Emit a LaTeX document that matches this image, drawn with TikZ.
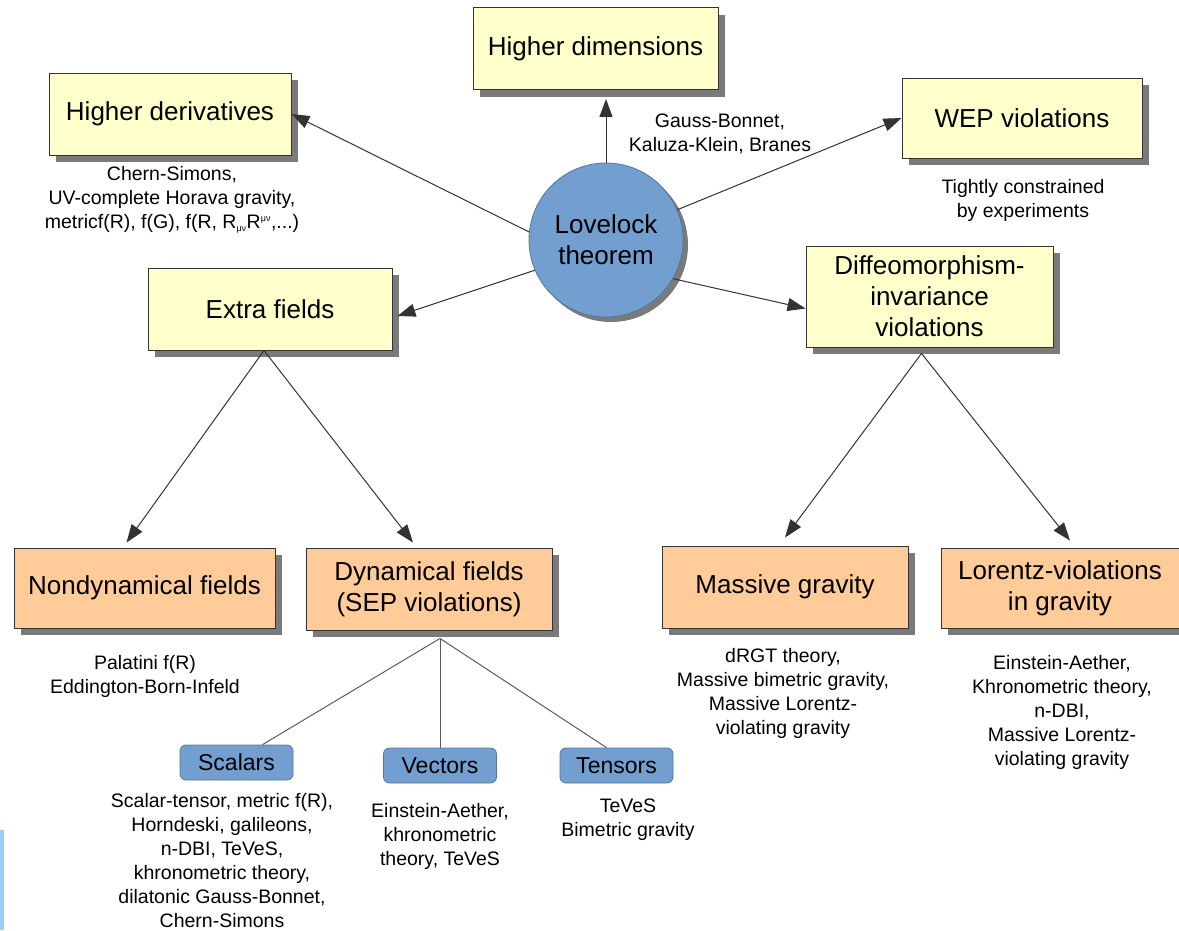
\documentclass[tikz,border=0pt]{standalone}
\usepackage{fontspec}
\setmainfont{Liberation Sans}
\usetikzlibrary{arrows.meta,shadows,calc}
\definecolor{yfill}{HTML}{FFFFCC}
\definecolor{ofill}{HTML}{FFCC99}
\definecolor{bfill}{HTML}{729FCF}
\definecolor{shad}{HTML}{7A7A7A}
\definecolor{edge}{HTML}{333333}
\definecolor{barblue}{HTML}{99CCFF}
\begin{document}
\begin{tikzpicture}[x=1pt,y=-1pt,
  box/.style={draw=edge, line width=0.9pt, align=center, inner sep=0pt,
    font=\fontsize{26}{31}\selectfont,
    drop shadow={shadow xshift=7pt, shadow yshift=-7pt, fill=shad, opacity=1}},
  ybox/.style={box, fill=yfill},
  obox/.style={box, fill=ofill},
  lovecirc/.style={circle, fill=bfill, draw=bfill!75!black, line width=0.8pt,
    minimum size=154pt, inner sep=0pt, align=center,
    font=\fontsize{26}{31}\selectfont,
    drop shadow={shadow xshift=5pt, shadow yshift=-5pt, fill=shad, opacity=1}},
  bbox/.style={rectangle, rounded corners=6pt, fill=bfill, draw=bfill!75!black,
    line width=0.8pt, minimum width=113pt, minimum height=35pt, inner sep=0pt,
    font=\fontsize{23}{27}\selectfont},
  note/.style={align=center, inner sep=0pt, font=\fontsize{19.5}{24}\selectfont},
  arr/.style={draw=edge, line width=1pt, -{Triangle[length=18pt,width=13pt]}},
  plain/.style={draw=edge!80, line width=1pt}
]
\fill[white] (0,0) rectangle (1179,930);
\useasboundingbox (0,0) rectangle (1179,930);
\fill[barblue] (0,830) rectangle (3.5,930);

% main nodes
\node[lovecirc] (love) at (606,240) {Lovelock\\theorem};
\node[ybox, minimum width=242pt, minimum height=82pt] (hder) at (170,114) {Higher derivatives};
\node[ybox, minimum width=245pt, minimum height=82pt] (hdim) at (595.5,48.5) {Higher dimensions};
\node[ybox, minimum width=240pt, minimum height=80pt] (wep) at (1022,118) {WEP violations};
\node[ybox, minimum width=244pt, minimum height=82pt] (extra) at (270,309) {Extra fields};
\node[ybox, minimum width=247pt, minimum height=101pt] (diff) at (929.5,296.5) {Diffeomorphism-\\invariance\\violations};
\node[obox, minimum width=261pt, minimum height=80pt] (nondyn) at (144.5,588) {Nondynamical fields};
\node[obox, minimum width=246pt, minimum height=82pt] (dyn) at (429,589) {Dynamical fields\\(SEP violations)};
\node[obox, minimum width=246pt, minimum height=82pt] (massive) at (785,587) {Massive gravity};
\node[obox, minimum width=238pt, minimum height=80pt] (lorentz) at (1060,588) {Lorentz-violations\\in gravity};
\node[bbox] (scalars) at (236.5,762.5) {Scalars};
\node[bbox] (vectors) at (440,765.5) {Vectors};
\node[bbox] (tensors) at (616.5,765.5) {Tensors};

% notes
\node[note] (hderT) at (172,200) {Chern-Simons,\\UV-complete Horava gravity,\\metricf(R), f(G), f(R, R\textsubscript{\fontsize{9}{9}\selectfont μν}R\textsuperscript{\fontsize{9}{9}\selectfont μν},...)};
\node[note] (hdimT) at (720,134) {Gauss-Bonnet,\\Kaluza-Klein, Branes};
\node[note] (wepT) at (1023,200) {Tightly constrained\\by experiments};
\node[note] (nondynT) at (145,676) {Palatini f(R)\\Eddington-Born-Infeld};
\node[note] (massiveT) at (783,693) {dRGT theory,\\Massive bimetric gravity,\\Massive Lorentz-\\violating gravity};
\node[note] (lorentzT) at (1062,712) {Einstein-Aether,\\Khronometric theory,\\n-DBI,\\Massive Lorentz-\\violating gravity};
\node[note] (scalarsT) at (222,861) {Scalar-tensor, metric f(R),\\Horndeski, galileons,\\n-DBI, TeVeS,\\khronometric theory,\\dilatonic Gauss-Bonnet,\\Chern-Simons};
\node[note] (vectorsT) at (440,836) {Einstein-Aether,\\khronometric\\theory, TeVeS};
\node[note] (tensorsT) at (628,820) {TeVeS\\Bimetric gravity};

% connectors from Lovelock
\draw[arr] (love.174) -- (hder.east);
\draw[arr] (love.north) -- ($(hdim.south -| love.north)+(0,9)$);
\draw[arr] (love.23) -- (wep.west);
\draw[arr] (love.203) -- ($(extra.east)+(5,7)$);
\draw[arr] (love.330) -- ($(diff.west)+(0,12)$);

% extra fields children
\draw[arr] ($(extra.south)+(-6,0)$) -- ($(nondyn.north)+(-18,-5)$);
\draw[arr] ($(extra.south)+(-6,0)$) -- ($(dyn.north)+(-16,-5)$);

% diffeo children
\draw[arr] ($(diff.south)+(-8,6)$) -- ($(massive.north)+(0,-8)$);
\draw[arr] ($(diff.south)+(-8,6)$) -- ($(lorentz.north)+(10,-7)$);

% dynamical children
\draw[plain] ($(dyn.south)+(11,8)$) -- ($(scalars.north)+(26,0)$);
\draw[plain] ($(dyn.south)+(11,8)$) -- (vectors.north);
\draw[plain] ($(dyn.south)+(11,8)$) -- ($(tensors.north)+(-10,0)$);
\end{tikzpicture}
\end{document}
